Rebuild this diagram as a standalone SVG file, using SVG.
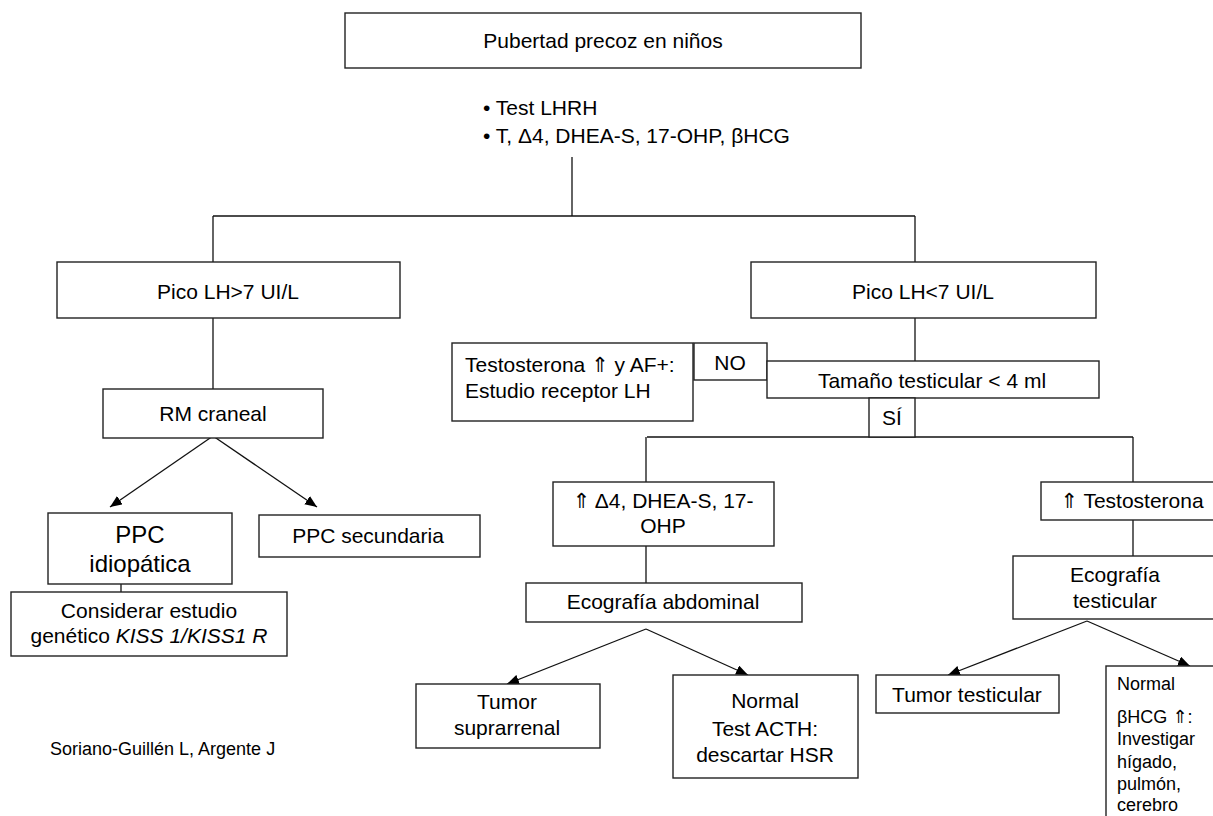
<svg xmlns="http://www.w3.org/2000/svg" width="1213" height="816" viewBox="0 0 1213 816">
<defs>
<marker id="ah" viewBox="0 0 12 10" refX="12" refY="5" markerWidth="12" markerHeight="10" markerUnits="userSpaceOnUse" orient="auto">
<path d="M0,0 L12,5 L0,10 z" fill="#000"/>
</marker>
<style>
rect{fill:#fff;stroke:#222;stroke-width:1.4}
.c line,.c polyline{stroke:#111;stroke-width:1.3;fill:none}
text{font-family:"Liberation Sans",Arial,"DejaVu Sans",sans-serif;font-size:21px;fill:#000}
.m{text-anchor:middle}
.big{font-size:24px}
.sm{font-size:18px}
</style>
</defs>
<rect x="0" y="0" width="1213" height="816" style="fill:#fff;stroke:none"/>
<g class="c" id="connectors">
<line x1="572" y1="157" x2="572" y2="216"/>
<line x1="213" y1="216" x2="915" y2="216"/>
<line x1="213" y1="216" x2="213" y2="262"/>
<line x1="915" y1="216" x2="915" y2="262"/>
<line x1="213" y1="318" x2="213" y2="389"/>
<line x1="213" y1="436" x2="110" y2="507" marker-end="url(#ah)"/>
<line x1="213" y1="436" x2="317" y2="507" marker-end="url(#ah)"/>
<line x1="121" y1="584" x2="121" y2="592"/>
<line x1="915" y1="318" x2="915" y2="361"/>
<line x1="647" y1="437" x2="1133" y2="437"/>
<line x1="646" y1="437" x2="646" y2="482"/>
<line x1="1133" y1="437" x2="1133" y2="482"/>
<line x1="646" y1="546" x2="646" y2="583"/>
<line x1="646" y1="629" x2="507" y2="684" marker-end="url(#ah)"/>
<line x1="646" y1="629" x2="748" y2="675" marker-end="url(#ah)"/>
<line x1="1133" y1="520" x2="1133" y2="556"/>
<line x1="1087" y1="621" x2="948" y2="675" marker-end="url(#ah)"/>
<line x1="1087" y1="621" x2="1190" y2="666" marker-end="url(#ah)"/>
</g>
<g id="n-root"><rect x="345" y="13" width="516" height="55"/><text class="m" x="603" y="48">Pubertad precoz en niños</text></g>
<g id="n-tests"><text x="483" y="115">• Test LHRH</text><text x="483" y="143">• T, Δ4, DHEA-S, 17-OHP, βHCG</text></g>
<g id="n-pico-hi"><rect x="57" y="262" width="343" height="56"/><text class="m" x="228" y="299">Pico LH&gt;7 UI/L</text></g>
<g id="n-rm"><rect x="103" y="389" width="220" height="49"/><text class="m" x="213" y="421">RM craneal</text></g>
<g id="n-ppc-idio"><rect x="48" y="513" width="184" height="71"/><text class="m big" x="140" y="543">PPC</text><text class="m big" x="140" y="572">idiopática</text></g>
<g id="n-considerar"><rect x="11" y="592" width="276" height="64"/><text class="m" x="149" y="618">Considerar estudio</text><text class="m" x="149" y="643">genético <tspan font-style="italic">KISS 1/KISS1 R</tspan></text></g>
<g id="n-ppc-sec"><rect x="259" y="515" width="221" height="42"/><text class="m" x="368" y="543">PPC secundaria</text></g>
<g id="n-pico-lo"><rect x="751" y="262" width="345" height="56"/><text class="m" x="923" y="299">Pico LH&lt;7 UI/L</text></g>
<g id="n-testo-af"><rect x="452" y="343" width="241" height="78"/><text x="465" y="372">Testosterona ⇑ y AF+:</text><text x="465" y="398">Estudio receptor LH</text></g>
<g id="n-no"><rect x="694" y="343" width="73" height="37"/><text class="m" x="730" y="370">NO</text></g>
<g id="n-tamano"><rect x="767" y="361" width="332" height="37"/><text class="m" x="932" y="388">Tamaño testicular &lt; 4 ml</text></g>
<g id="n-si"><rect x="869" y="398" width="46" height="39"/><text class="m" x="892" y="425">SÍ</text></g>
<g id="n-delta"><rect x="553" y="482" width="221" height="64"/><text class="m" x="663" y="508">⇑ Δ4, DHEA-S, 17-</text><text class="m" x="663" y="533">OHP</text></g>
<g id="n-eco-abd"><rect x="526" y="583" width="276" height="39"/><text class="m" x="663" y="609">Ecografía abdominal</text></g>
<g id="n-tumor-supra"><rect x="416" y="684" width="184" height="64"/><text class="m" x="507" y="709">Tumor</text><text class="m" x="507" y="735">suprarrenal</text></g>
<g id="n-normal-acth"><rect x="673" y="675" width="185" height="103"/><text class="m" x="765" y="708">Normal</text><text class="m" x="765" y="736">Test ACTH:</text><text class="m" x="765" y="762">descartar HSR</text></g>
<g id="n-testo"><rect x="1041" y="482" width="180" height="38"/><text class="m" x="1132" y="508">⇑ Testosterona</text></g>
<g id="n-eco-test"><rect x="1013" y="556" width="210" height="63"/><text class="m" x="1115" y="582">Ecografía</text><text class="m" x="1115" y="608">testicular</text></g>
<g id="n-tumor-test"><rect x="876" y="675" width="183" height="38"/><text class="m" x="967" y="702">Tumor testicular</text></g>
<g id="n-normal-hcg"><rect x="1106" y="666" width="120" height="160"/><text class="sm" x="1117" y="690">Normal</text><text class="sm" x="1117" y="723">βHCG ⇑:</text><text class="sm" x="1117" y="745">Investigar</text><text class="sm" x="1117" y="768">hígado,</text><text class="sm" x="1117" y="790">pulmón,</text><text class="sm" x="1117" y="811">cerebro</text></g>
<g id="credit"><text x="50" y="755" style="font-size:18px">Soriano-Guillén L, Argente J</text></g>
</svg>
